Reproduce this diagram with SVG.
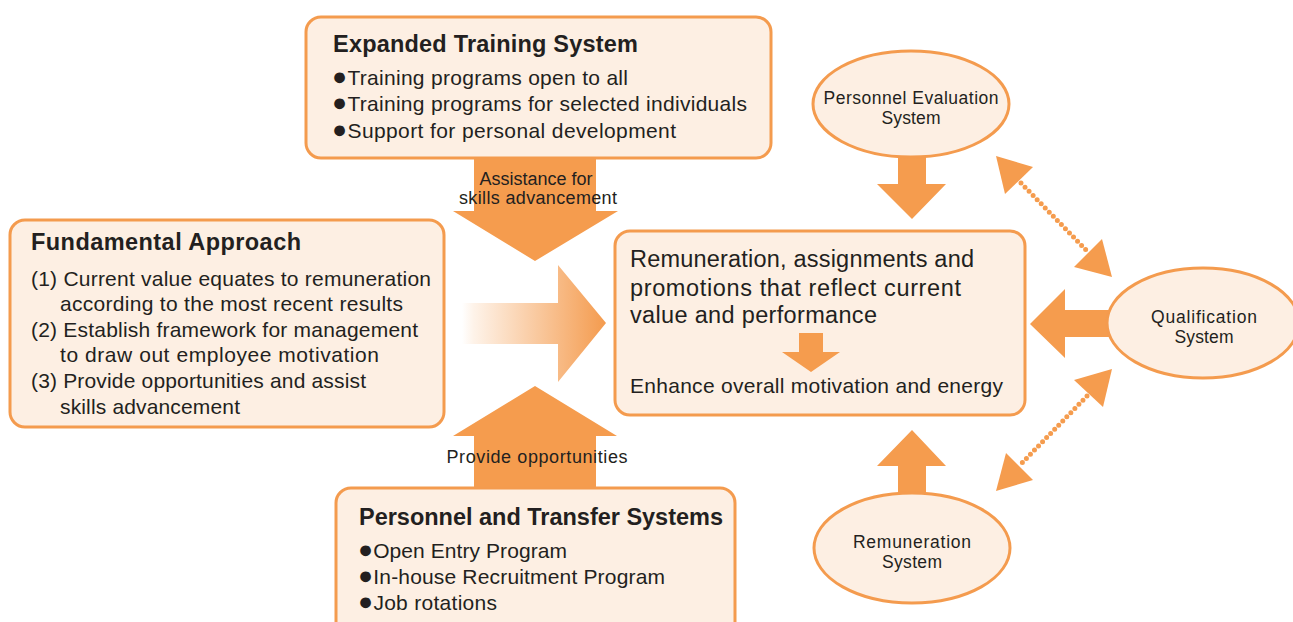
<svg xmlns="http://www.w3.org/2000/svg" width="1293" height="622" viewBox="0 0 1293 622">
  <defs>
    <linearGradient id="fadeArrow" gradientUnits="userSpaceOnUse" x1="462" y1="0" x2="606" y2="0">
      <stop offset="0" stop-color="#FFFFFF"/>
      <stop offset="0.08" stop-color="#FEF3E9"/>
      <stop offset="1" stop-color="#F49B4E"/>
    </linearGradient>
  </defs>
  <style>
    .box { fill: #FDEFE3; stroke: #F49B4E; stroke-width: 3; }
    .arrow { fill: #F59C4E; }
    .dots { fill: none; stroke: #F59C4E; stroke-width: 5; stroke-linecap: round; stroke-dasharray: 0 5.8; }
    text { font-family: "Liberation Sans", Arial, sans-serif; fill: #231F20; }
    .title { font-size: 23.5px; font-weight: bold; }
    .body { font-size: 21px; }
    .big { font-size: 23.5px; }
    .label { font-size: 18px; text-anchor: middle; }
    .oval { font-size: 17.5px; text-anchor: middle; }
    .dot { font-size: 25px; }
  </style>

  <!-- connectors -->
  <g id="connectors">
    <!-- training system down into the outcome -->
    <polygon class="arrow" points="474,157 596,157 596,211 618,211 535,261 453,211 474,211"/>
    <!-- transfer systems up into the outcome -->
    <polygon class="arrow" points="474,489 596,489 596,436 617,436 535,386 453,436 474,436"/>
    <!-- fundamental approach, fading arrow -->
    <polygon fill="url(#fadeArrow)" points="460,303 558,303 558,265 606,323 558,382 558,344 460,344"/>
    <!-- evaluation down -->
    <polygon class="arrow" points="898,155 926,155 926,184 946,184 912,219 877,184 898,184"/>
    <!-- remuneration up -->
    <polygon class="arrow" points="898,495 926,495 926,466 946,466 912,430 877,466 898,466"/>
    <!-- qualification left -->
    <polygon class="arrow" points="1110,310 1065,310 1065,289 1030,324 1065,358 1065,337 1110,337"/>
    <!-- evaluation <-> qualification -->
    <line class="dots" x1="1021" y1="183" x2="1087" y2="251"/>
    <polygon class="arrow" points="996,156 1005,194 1033,167"/>
    <polygon class="arrow" points="1112,277 1074,267 1102,239"/>
    <!-- qualification <-> remuneration -->
    <line class="dots" x1="1087" y1="396" x2="1021" y2="464"/>
    <polygon class="arrow" points="1112,369 1074,380 1103,407"/>
    <polygon class="arrow" points="996,491 1006,453 1033,480"/>
    <!-- arrow labels -->
    <text class="label" x="536" y="185" textLength="113">Assistance for</text>
    <text class="label" x="538" y="204" textLength="158">skills advancement</text>
    <text class="label" x="537" y="463" textLength="181">Provide opportunities</text>
  </g>

  <g id="training">
    <rect class="box" x="306" y="17" width="465" height="141" rx="15"/>
    <text class="title" x="333" y="52" textLength="305">Expanded Training System</text>
    <text class="body" x="332" y="85" textLength="296"><tspan class="dot">●</tspan>Training programs open to all</text>
    <text class="body" x="332" y="111" textLength="415"><tspan class="dot">●</tspan>Training programs for selected individuals</text>
    <text class="body" x="332" y="138" textLength="344"><tspan class="dot">●</tspan>Support for personal development</text>
  </g>

  <g id="fundamental">
    <rect class="box" x="10" y="220" width="434" height="207" rx="15"/>
    <text class="title" x="31" y="250" textLength="270">Fundamental Approach</text>
    <text class="body" x="31" y="286" textLength="400">(1) Current value equates to remuneration</text>
    <text class="body" x="60" y="311" textLength="343">according to the most recent results</text>
    <text class="body" x="31" y="337" textLength="387">(2) Establish framework for management</text>
    <text class="body" x="60" y="362" textLength="319">to draw out employee motivation</text>
    <text class="body" x="31" y="388" textLength="335">(3) Provide opportunities and assist</text>
    <text class="body" x="60" y="414" textLength="180">skills advancement</text>
  </g>

  <g id="outcome">
    <rect class="box" x="615" y="231" width="410" height="184" rx="15"/>
    <text class="big" x="630" y="267" textLength="344">Remuneration, assignments and</text>
    <text class="big" x="630" y="296" textLength="331">promotions that reflect current</text>
    <text class="big" x="630" y="323" textLength="247">value and performance</text>
    <polygon class="arrow" points="799,333 823,333 823,352 840,352 811,372 782,352 799,352"/>
    <text class="body" x="630" y="393" textLength="373">Enhance overall motivation and energy</text>
  </g>

  <g id="transfer">
    <rect class="box" x="336" y="488" width="399" height="160" rx="15"/>
    <text class="title" x="359" y="525" textLength="364">Personnel and Transfer Systems</text>
    <text class="body" x="358" y="558" textLength="209"><tspan class="dot">●</tspan>Open Entry Program</text>
    <text class="body" x="358" y="584" textLength="307"><tspan class="dot">●</tspan>In-house Recruitment Program</text>
    <text class="body" x="358" y="610" textLength="139"><tspan class="dot">●</tspan>Job rotations</text>
  </g>

  <g id="evaluation">
    <ellipse class="box" cx="911" cy="104" rx="98" ry="53"/>
    <text class="oval" x="911" y="104" textLength="175">Personnel Evaluation</text>
    <text class="oval" x="911" y="124" textLength="59">System</text>
  </g>

  <g id="qualification">
    <ellipse class="box" cx="1203" cy="323" rx="96" ry="55"/>
    <text class="oval" x="1204" y="323" textLength="106">Qualification</text>
    <text class="oval" x="1204" y="343" textLength="59">System</text>
  </g>

  <g id="remuneration">
    <ellipse class="box" cx="912" cy="548" rx="98" ry="55"/>
    <text class="oval" x="912" y="548" textLength="118">Remuneration</text>
    <text class="oval" x="912" y="568" textLength="60">System</text>
  </g>
</svg>
